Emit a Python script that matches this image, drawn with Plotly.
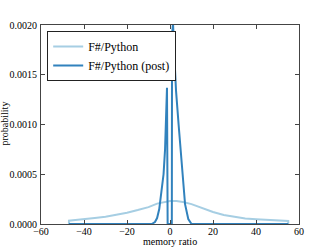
import plotly.graph_objects as go

# Light curve: F#/Python
light_x = [-47, -47, -44, -40, -35, -30, -25, -20, -15, -10, -6, -3, 0, 3, 6, 10, 15, 20, 25, 30, 35, 40, 45, 50, 55, 55]
light_y = [0, 0.000033, 0.00004, 0.000047, 0.00006, 0.000073, 0.00009, 0.000113, 0.00014, 0.00017, 0.000205,
           0.00022, 0.00023, 0.00023, 0.000222, 0.0002, 0.00016, 0.00012, 0.00009, 0.00007, 0.000055,
           0.000047, 0.00004, 0.000033, 0.00003, 0]

# Dark curve: F#/Python (post)
dark_x = [-47, -10, -8.5, -7, -6, -5, -4, -3, -2.3, -1.9, -1.4, -1.1, 0.85, 0.95, 1.4, 2.0, 2.8, 4.0, 5.2, 6.0, 7.0, 8.5, 10, 55]
dark_y = [0, 0, 0, 0.00002, 0.00006, 0.00015, 0.0003, 0.0005, 0.00075, 0.001, 0.00137, 0, 0, 0.0019,
          0.00202, 0.0017, 0.00134, 0.001, 0.0007, 0.00045, 0.0002, 0.00005, 0, 0]

x_ticks = [-60, -40, -20, 0, 20, 40, 60]
y_ticks = [0, 0.0005, 0.001, 0.0015, 0.002]

ML, MR, MT, MB = 41, 33, 25, 25
W, H = 332, 249
pw, ph = W - ML - MR, H - MT - MB


def px_to_paper(sx, sy):
    return (sx - ML) / pw, (H - MB - sy) / ph


fig = go.Figure()
fig.add_trace(go.Scatter(x=light_x, y=light_y, mode="lines", name="F#/Python",
                         line=dict(color="#a6cee3", width=2)))
fig.add_trace(go.Scatter(x=dark_x, y=dark_y, mode="lines", name="F#/Python (post)",
                         line=dict(color="#3182bd", width=2)))

axis_common = dict(showline=True, mirror="ticks", linecolor="#444", linewidth=1,
                   ticks="inside", ticklen=4, tickcolor="#444", showgrid=False, zeroline=False,
                   automargin=False,
                   tickfont=dict(family="Liberation Serif", size=10, color="#000"))

xl_x, xl_y = px_to_paper(170, 241.5)
yl_x, yl_y = px_to_paper(4, 123.5)

fig.update_layout(
    width=W, height=H,
    margin=dict(l=ML, r=MR, t=MT, b=MB),
    paper_bgcolor="white", plot_bgcolor="white",
    font=dict(family="Liberation Serif", color="#000"),
    xaxis=dict(range=[-60, 60], tickvals=x_ticks, ticklabelstandoff=-2, **axis_common),
    yaxis=dict(range=[0, 0.002], tickvals=y_ticks, tickformat=".4f", ticklabelstandoff=1,
               **axis_common),
    legend=dict(x=0.024, y=0.97, xanchor="left", yanchor="top",
                bgcolor="white", bordercolor="#222", borderwidth=1, itemwidth=30,
                font=dict(family="Liberation Serif", size=12), tracegroupgap=0),
    showlegend=True,
    annotations=[
        dict(text="memory ratio", x=xl_x, y=xl_y, xref="paper", yref="paper", showarrow=False,
             xanchor="center", yanchor="middle", font=dict(size=10, family="Liberation Serif")),
        dict(text="probability", x=yl_x, y=yl_y, xref="paper", yref="paper", showarrow=False,
             xanchor="center", yanchor="middle", textangle=-90,
             font=dict(size=10, family="Liberation Serif")),
    ],
)

# remove the browser's default 8px body margin so the figure sits at the page origin
fig.write_html("out.html", config={"displayModeBar": False},
               post_script="document.body.style.margin='0';")
